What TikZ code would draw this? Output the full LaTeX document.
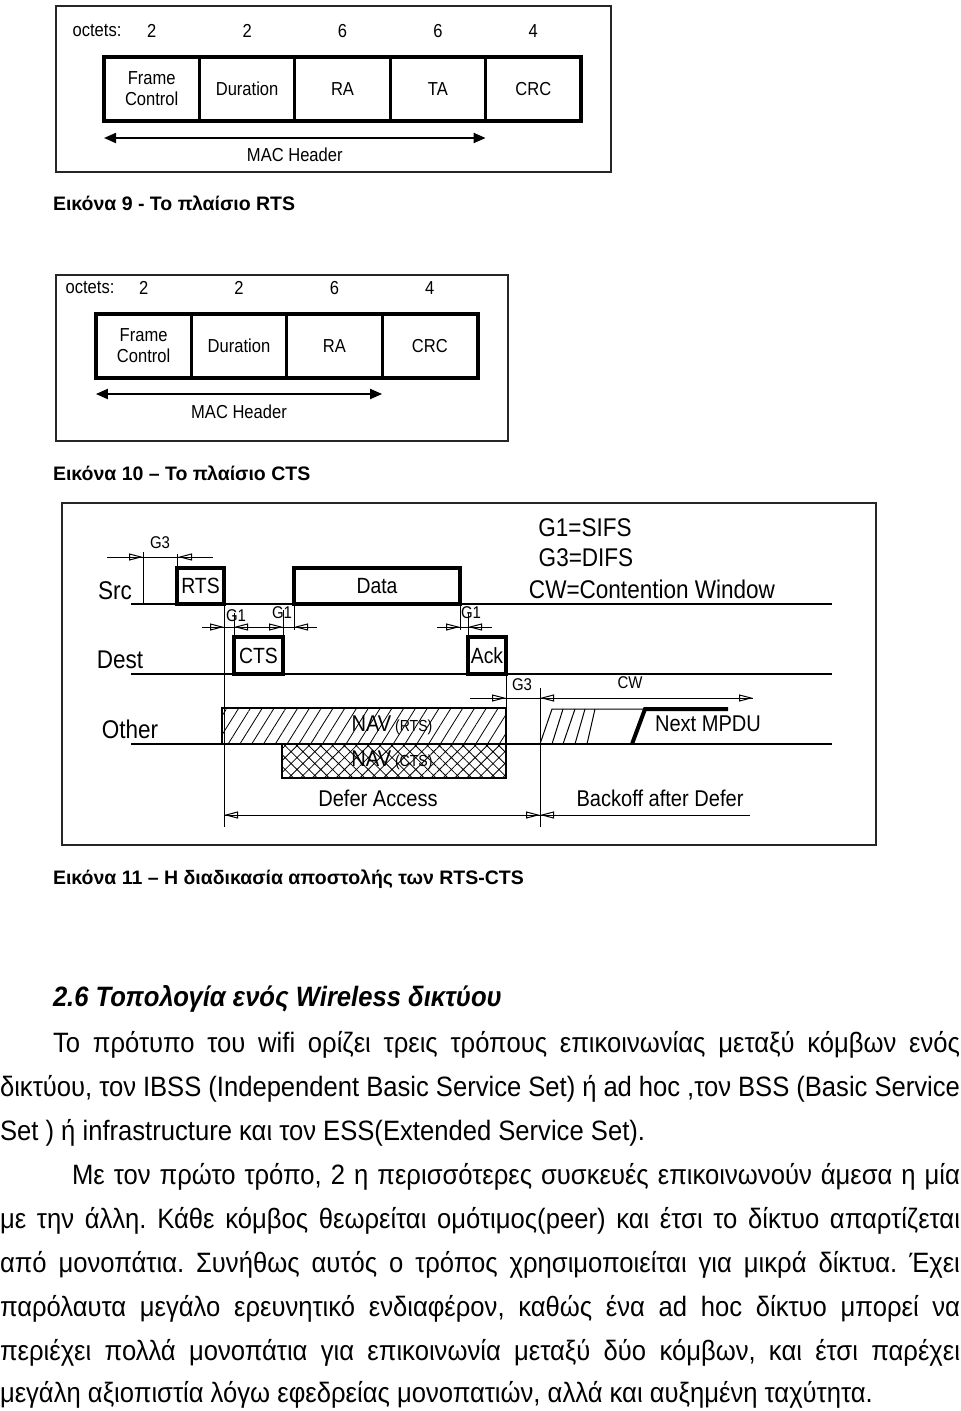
\documentclass[tikz,border=0pt]{standalone}
\usepackage{fontspec}
\setmainfont{Liberation Sans}
\newfontfamily\bodyfont{Liberation Sans}[FakeStretch=0.915]
\newfontfamily\figfont{Liberation Sans}[FakeStretch=0.88]
\usetikzlibrary{arrows.meta,positioning,patterns.meta,calc}
\frenchspacing

\begin{document}
\begin{tikzpicture}[x=0.5pt,y=-0.5pt,
  >={Triangle[open,length=7pt,width=3.5pt]},
  every node/.style={inner sep=0pt,outer sep=0pt},
  frame/.style={draw=black!85,line width=1.3pt},
  field/.style={draw,line width=1.5pt,minimum width=47.7pt,minimum height=32pt,
    align=center,font=\figfont\fontsize{9.4}{10.5}\selectfont},
  fieldbox/.style={draw,line width=2pt},
  lbl/.style={font=\figfont\fontsize{9.4}{11}\selectfont},
  mac/.style={{Triangle[length=6pt,width=5pt]}-{Triangle[length=6pt,width=5pt]},line width=1pt},
  caption/.style={anchor=west,font=\fontsize{9.75}{12}\selectfont\bfseries},
  station/.style={font=\figfont\fontsize{12.8}{14}\selectfont},
  pkt/.style={draw,line width=2pt,anchor=south west,font=\figfont\fontsize{11}{12}\selectfont},
  nav/.style={draw,line width=0.75pt,anchor=north west},
  gap/.style={font=\figfont\fontsize{8.5}{9}\selectfont},
  note/.style={font=\figfont\fontsize{11.4}{12}\selectfont},
  medium/.style={line width=0.75pt},
  tick/.style={line width=0.5pt},
  dim/.style={->,line width=0.5pt},
  body/.style={anchor=mid west,font=\bodyfont\fontsize{14}{16}\selectfont}]
  \useasboundingbox (0,0) rectangle (960,1411);

  % Figure 9: RTS frame
  \draw[frame] (56,6) rectangle (611,172);
  \node[lbl] (oct9) at (97,31) {octets:};
  \node[field] (fc9) at (151.7,89) {Frame\\Control};
  \node[field,right=0pt of fc9] (dur9) {Duration};
  \node[field,right=0pt of dur9] (ra9) {RA};
  \node[field,right=0pt of ra9] (ta9) {TA};
  \node[field,right=0pt of ta9] (crc9) {CRC};
  \draw[fieldbox] (fc9.north west) rectangle (crc9.south east);
  \foreach \f/\n in {fc9/2,dur9/2,ra9/6,ta9/6,crc9/4}
    \node[lbl] at (\f |- oct9) {\n};
  \coordinate (mac9w) at ($(fc9.south west)+(0,17)$);
  \coordinate (mac9e) at ($(ta9.south east)+(0,17)$);
  \draw[mac] (mac9w) -- (mac9e);
  \node[lbl] (mach9) at ($(mac9w)!0.5!(mac9e)+(0,17)$) {MAC Header};
  \node[caption] (cap9) at (53,203) {Εικόνα 9 - Το πλαίσιο RTS};

  % Figure 10: CTS frame
  \draw[frame] (56,275) rectangle (508,441);
  \node[lbl] (oct10) at (90,288) {octets:};
  \node[field] (fc10) at (143.6,346) {Frame\\Control};
  \node[field,right=0pt of fc10] (dur10) {Duration};
  \node[field,right=0pt of dur10] (ra10) {RA};
  \node[field,right=0pt of ra10] (crc10) {CRC};
  \draw[fieldbox] (fc10.north west) rectangle (crc10.south east);
  \foreach \f/\n in {fc10/2,dur10/2,ra10/6,crc10/4}
    \node[lbl] at (\f |- oct10) {\n};
  \coordinate (mac10w) at ($(fc10.south west)+(0,16)$);
  \coordinate (mac10e) at ($(ra10.south east)+(0,16)$);
  \draw[mac] (mac10w) -- (mac10e);
  \node[lbl] (mach10) at ($(mac10w)!0.5!(mac10e)+(0,18)$) {MAC Header};
  \node[caption] (cap10) at (53,473) {Εικόνα 10 – Το πλαίσιο CTS};

  % Figure 11: RTS/CTS exchange
  \draw[frame,line width=1pt] (62,503) rectangle (876,845);
  \node[station] (sifs) at (585,528) {G1=SIFS};
  \node[station] (difs) at (586,558) {G3=DIFS};
  \node[station] (cwdef) at (652,589) {CW=Contention Window};
  \node[station] (src) at (115,591) {Src};
  \node[station] (dest) at (120,660) {Dest};
  \node[station] (other) at (130,729) {Other};
  \coordinate (srcW) at (131,604);   \coordinate (srcE) at (832,604);
  \coordinate (destW) at (131,674);  \coordinate (destE) at (832,674);
  \coordinate (otherW) at (131,744); \coordinate (otherE) at (832,744);
  \draw[medium] (srcW) -- (srcE);
  \draw[medium] (destW) -- (destE);
  \draw[medium] (otherW) -- (otherE);

  \node[nav,pattern={Lines[angle=58,distance=5pt,line width=0.4pt]},
    minimum width=142pt,minimum height=18pt] (navrts) at (222,708) {};
  \node[nav,pattern={Hatch[angle=45,distance=4.2pt,line width=0.4pt]},
    minimum width=112pt,minimum height=17pt] (navcts) at (282,744) {};
  \node[note] (navr) at (392,725) {NAV\,{\fontsize{8}{9}\selectfont(RTS)}};
  \node[note] (navc) at (392,760) {NAV\,{\fontsize{8}{9}\selectfont(CTS)}};

  \node[pkt,minimum width=23.5pt,minimum height=18pt] (rts) at (177,604) {RTS};
  \node[pkt,minimum width=83pt,minimum height=18pt] (data) at (294,604) {Data};
  \node[pkt,minimum width=24.5pt,minimum height=18.5pt] (cts) at (234,674) {CTS};
  \node[pkt,minimum width=19pt,minimum height=18.5pt] (ack) at (468,674) {Ack};

  % long guide lines
  \coordinate (rtsdrop) at (224,827);
  \coordinate (cwtop) at (540,688);
  \coordinate (cwbot) at (540,827);
  \draw[tick] (rts.south east) -- (rtsdrop);
  \draw[tick] (cwtop) -- (cwbot);
  \draw[tick] (ack.south east) -- (506,744);

  % G3 before RTS
  \draw[tick] (107,557) -- (213,557);
  \draw[dim] (107,557) -- (143,557);
  \draw[dim] (213,557) -- (178,557);
  \draw[tick] (143,552) -- (143,604);
  \draw[tick] (rts.north west) -- ++(0,-14);
  \node[gap] (g3a) at (160,543) {G3};

  % G1 gaps
  \draw[tick] (202,627) -- (317,627);
  \draw[dim] (202,627) -- (224,627);
  \draw[dim] (258,627) -- (234,627);
  \draw[dim] (259,627) -- (283,627);
  \draw[dim] (317,627) -- (294,627);
  \draw[tick] (cts.north west) -- ++(0,-24);
  \draw[tick] (cts.north east) -- ++(0,-27);
  \draw[tick] (data.south west) -- ++(0,26);
  \node[gap] (g1a) at (236,616) {G1};
  \node[gap] (g1b) at (282,613) {G1};
  \draw[tick] (437,627) -- (492,627);
  \draw[dim] (437,627) -- (460,627);
  \draw[dim] (492,627) -- (468,627);
  \draw[tick] (data.south east) -- ++(0,26);
  \draw[tick] (ack.north west) -- ++(0,-24);
  \node[gap] (g1c) at (471,613) {G1};

  % G3 and CW after Ack
  \draw[tick] (470,698) -- (753,698);
  \draw[dim] (470,698) -- (506,698);
  \draw[dim] (575,698) -- (540,698);
  \draw[dim] (700,698) -- (753,698);
  \node[gap] (g3b) at (522,685) {G3};
  \node[gap] (cw) at (630,683) {CW};

  % backoff slots and next frame
  \draw[tick] (540,744) -- (552,709) -- (645,709);
  \foreach \b/\t in {552/563,563/575,575/585,587/595}
    \draw[tick] (\b,744) -- (\t,709);
  \draw[line width=2pt] (632,744) -- (645,709) -- (728,709);
  \node[note] (next) at (708,724) {Next MPDU};

  % defer / backoff span
  \draw[tick] (224,815) -- (750,815);
  \draw[dim] (252,815) -- (224,815);
  \draw[dim] (512,815) -- (540,815);
  \draw[dim] (568,815) -- (540,815);
  \node[note] (defer) at (378,798) {Defer Access};
  \node[note] (backoff) at (660,798) {Backoff after Defer};
  \node[caption] (cap11) at (53,879) {Εικόνα 11 – Η διαδικασία αποστολής των RTS-CTS};

  % section text
  \node[body,font=\bodyfont\fontsize{14}{16}\selectfont\bfseries\itshape] (head) at (53,1001)
    {2.6 Τοπολογία ενός Wireless δικτύου};
  \node[body] (l1) at (53,1047) {\makebox[453.5pt][s]{Το πρότυπο του wifi ορίζει τρεις τρόπους επικοινωνίας μεταξύ κόμβων ενός}};
  \node[body] (l2) at (0,1091) {\makebox[480pt][s]{δικτύου, τον IBSS (Independent Basic Service Set) ή ad hoc ,τον BSS (Basic Service}};
  \node[body] (l3) at (0,1135) {Set ) ή infrastructure και τον ESS(Extended Service Set).};
  \node[body] (l4) at (72,1179) {\makebox[444pt][s]{Με τον πρώτο τρόπο, 2 η περισσότερες συσκευές επικοινωνούν άμεσα η μία}};
  \node[body] (l5) at (0,1223) {\makebox[480pt][s]{με την άλλη. Κάθε κόμβος θεωρείται ομότιμος(peer) και έτσι το δίκτυο απαρτίζεται}};
  \node[body] (l6) at (0,1267) {\makebox[480pt][s]{από μονοπάτια. Συνήθως αυτός ο τρόπος χρησιμοποιείται για μικρά δίκτυα. Έχει}};
  \node[body] (l7) at (0,1311) {\makebox[480pt][s]{παρόλαυτα μεγάλο ερευνητικό ενδιαφέρον, καθώς ένα ad hoc δίκτυο μπορεί να}};
  \node[body] (l8) at (0,1355) {\makebox[480pt][s]{περιέχει πολλά μονοπάτια για επικοινωνία μεταξύ δύο κόμβων, και έτσι παρέχει}};
  \node[body] (l9) at (0,1397) {μεγάλη αξιοπιστία λόγω εφεδρείας μονοπατιών, αλλά και αυξημένη ταχύτητα.};
\end{tikzpicture}
\end{document}
